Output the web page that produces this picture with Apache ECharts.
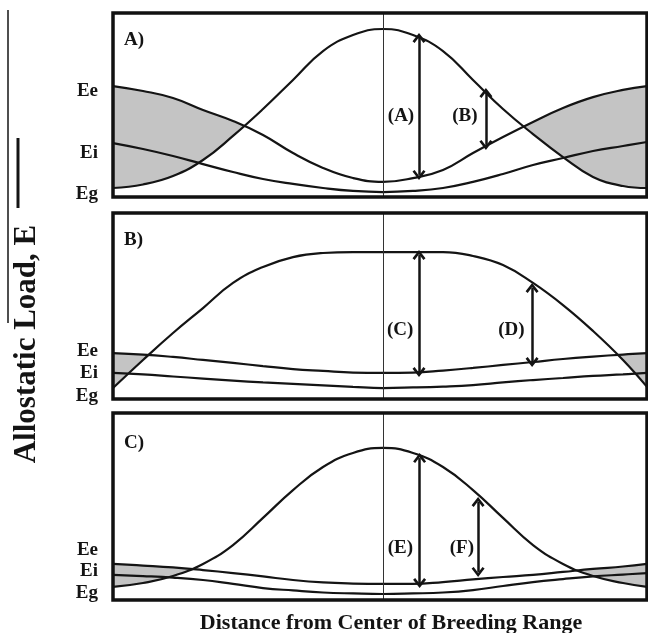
<!DOCTYPE html>
<html>
<head>
<meta charset="utf-8">
<title>Allostatic load across the breeding range</title>
<script src="https://cdn.jsdelivr.net/npm/echarts@6/dist/echarts.min.js"></script>
<style>
  html, body { margin: 0; padding: 0; background: #fff; }
  #chart { width: 648px; height: 633px; }
</style>
</head>
<body>
<div id="chart"></div>
<script>
// distance from the centre of the breeding range (centre = 0)
const distance = [-9, -8, -7, -6, -5, -4, -3, -2, -1, 0, 1, 2, 3, 4, 5, 6, 7, 8, 8.8]

// panel A
const eeA = [60.3, 57.6, 53.8, 47.3, 41.3, 33.7, 23.9, 15.8, 10.3, 8.2, 10.3, 14.7, 23.9, 32.6, 40.8, 48.4, 54.3, 58.2, 60.3]
const eiA = [29.3, 26.1, 22.3, 17.9, 13.6, 9.8, 7.1, 4.9, 3.3, 2.7, 3.3, 4.9, 8.2, 12.5, 17.4, 21.2, 25.0, 27.7, 29.9]
const egA = [4.9, 6.8, 11.4, 20.1, 33.2, 47.8, 63.6, 79.3, 88.0, 91.3, 88.0, 79.3, 63.6, 47.8, 34.2, 21.7, 10.9, 6.0, 4.9]

// panel B
const eeB = [24.7, 23.9, 22.6, 21.0, 19.4, 17.7, 16.1, 15.1, 14.2, 14.0, 14.2, 15.3, 16.7, 18.3, 19.9, 21.5, 22.8, 23.9, 24.7]
const eiB = [14.0, 13.2, 12.1, 11.0, 9.9, 8.9, 8.1, 7.3, 6.5, 5.9, 6.2, 6.7, 7.5, 8.9, 10.2, 11.3, 12.4, 13.2, 14.0]
const egB = [5.9, 21.0, 35.5, 48.9, 62.4, 71.0, 76.3, 78.5, 79.0, 79.0, 79.0, 79.0, 76.9, 72.0, 62.4, 50.5, 36.6, 21.0, 6.5]

// panel C
const eeC = [19.3, 18.4, 17.4, 16.0, 14.4, 12.6, 10.7, 9.4, 8.8, 8.6, 8.6, 9.6, 11.0, 12.3, 13.4, 15.0, 16.6, 17.9, 19.3]
const eiC = [13.4, 12.8, 12.0, 10.7, 8.6, 6.4, 5.1, 4.0, 3.5, 3.2, 3.5, 4.0, 5.3, 7.5, 9.6, 11.2, 12.6, 13.6, 14.4]
const egC = [7.0, 9.1, 12.8, 19.3, 29.4, 43.9, 58.8, 71.1, 78.6, 81.3, 78.6, 71.1, 58.8, 43.9, 29.4, 19.3, 12.8, 9.1, 7.0]

// y tick labels and where they sit in each panel
const levelNames = ['Eg', 'Ei', 'Ee']
const levelsA = [1.6, 23.9, 57.6]
const levelsB = [1.6, 13.7, 25.5]
const levelsC = [3.5, 15.2, 26.7]

// double arrows: [distance, top load, bottom load]
const arrowsA = [[1.2, 86.4, 12.0], [3.43, 56.5, 28.3]]
const arrowsB = [[1.2, 77.4, 14.5], [4.97, 59.7, 19.9]]
const arrowsC = [[1.22, 75.9, 9.1], [3.17, 52.4, 15.0]]

// arrow names: [distance, load, text]
const notesA = [[0.6, 44.0, '(A)'], [2.73, 44.0, '(B)']]
const notesB = [[0.57, 37.1, '(C)'], [4.28, 37.1, '(D)']]
const notesC = [[0.58, 27.8, '(E)'], [2.63, 27.8, '(F)']]

const panelTags = ['A)', 'B)', 'C)']
const yTitle = 'Allostatic Load, E'
const xTitle = 'Distance from Center of Breeding Range'

const SERIF = '"Liberation Serif", "Times New Roman", serif'
const INK = '#141414'
const CHEVRON = 'path://M5,0 L10,7 L8.4,8.4 L5,3.6 L1.6,8.4 L0,7 Z'

const grids = [
  { left: 113, top: 13, width: 534, height: 184 },
  { left: 113, top: 213, width: 534, height: 186 },
  { left: 113, top: 413, width: 534, height: 187 }
]
const panels = [
  { ee: eeA, ei: eiA, eg: egA, levels: levelsA, arrows: arrowsA, notes: notesA },
  { ee: eeB, ei: eiB, eg: egB, levels: levelsB, arrows: arrowsB, notes: notesB },
  { ee: eeC, ei: eiC, eg: egC, levels: levelsC, arrows: arrowsC, notes: notesC }
]

const pairs = vals => distance.map((d, i) => [d, vals[i]])

const xAxis = []
const yAxis = []
const series = []

panels.forEach((p, i) => {
  xAxis.push({ gridIndex: i, type: 'value', min: -9, max: 8.8, show: false })
  yAxis.push({
    gridIndex: i,
    type: 'value',
    min: 0,
    max: 100,
    axisLine: { show: false },
    axisTick: { show: false },
    splitLine: { show: false },
    axisLabel: {
      customValues: p.levels,
      formatter: v => levelNames[p.levels.indexOf(v)] || '',
      margin: 15,
      color: INK,
      fontFamily: SERIF,
      fontWeight: 'bold',
      fontSize: 19
    }
  })

  const base = {
    type: 'line',
    xAxisIndex: i,
    yAxisIndex: i,
    smooth: 0.45,
    symbol: 'none',
    silent: true,
    animation: false
  }
  // grey band: area under Ee, with the part under Eg painted white again
  series.push(Object.assign({}, base, {
    data: pairs(p.ee),
    lineStyle: { width: 0 },
    areaStyle: { color: '#c4c4c4', opacity: 1, origin: 'start' },
    z: 1
  }))
  series.push(Object.assign({}, base, {
    data: pairs(p.eg),
    lineStyle: { width: 0 },
    areaStyle: { color: '#ffffff', opacity: 1, origin: 'start' },
    z: 2
  }))
  series.push(Object.assign({}, base, {
    name: 'Ee',
    data: pairs(p.ee),
    lineStyle: { color: INK, width: 2.2 },
    z: 3
  }))
  series.push(Object.assign({}, base, {
    name: 'Ei',
    data: pairs(p.ei),
    lineStyle: { color: INK, width: 2.2 },
    z: 3,
    markLine: {
      silent: true,
      animation: false,
      symbol: [CHEVRON, CHEVRON],
      symbolSize: [13, 10],
      label: { show: false },
      lineStyle: { color: INK, width: 2.5, type: 'solid' },
      data: p.arrows.map(a => [{ coord: [a[0], a[1]] }, { coord: [a[0], a[2]] }])
    }
  }))
  series.push(Object.assign({}, base, {
    name: 'Eg',
    data: pairs(p.eg),
    lineStyle: { color: INK, width: 2.2 },
    z: 3,
    markLine: {
      silent: true,
      animation: false,
      symbol: 'none',
      label: { show: false },
      lineStyle: { color: '#333', width: 1, type: 'solid' },
      data: [{ xAxis: 0 }]
    }
  }))
  series.push({
    type: 'scatter',
    xAxisIndex: i,
    yAxisIndex: i,
    data: p.notes,
    symbolSize: 0.1,
    itemStyle: { color: INK, opacity: 1 },
    silent: true,
    animation: false,
    z: 4,
    label: {
      show: true,
      position: 'inside',
      formatter: q => q.data[2],
      color: INK,
      opacity: 1,
      fontFamily: SERIF,
      fontWeight: 'bold',
      fontSize: 19
    }
  })
})

const tagTops = [40, 240.5, 443.5]
const graphic = panelTags.map((t, i) => ({
  type: 'text',
  x: 124,
  y: tagTops[i],
  style: {
    text: t,
    fill: INK,
    font: 'bold 19px ' + SERIF,
    textAlign: 'left',
    textVerticalAlign: 'middle'
  }
}))
graphic.push({
  type: 'text',
  x: 27,
  y: 344,
  rotation: Math.PI / 2,
  style: {
    text: yTitle,
    fill: INK,
    font: 'bold 31px ' + SERIF,
    textAlign: 'center',
    textVerticalAlign: 'middle'
  }
})
graphic.push({
  type: 'text',
  x: 391,
  y: 623,
  style: {
    text: xTitle,
    fill: INK,
    font: 'bold 22px ' + SERIF,
    textAlign: 'center',
    textVerticalAlign: 'middle'
  }
})
// stray rules left of the axis title in the original figure
graphic.push({
  type: 'line',
  shape: { x1: 8, y1: 10, x2: 8, y2: 323 },
  style: { stroke: INK, lineWidth: 1.5 }
})
graphic.push({
  type: 'line',
  shape: { x1: 18, y1: 138, x2: 18, y2: 208 },
  style: { stroke: INK, lineWidth: 3 }
})

const chart = echarts.init(document.getElementById('chart'))
chart.setOption({
  animation: false,
  backgroundColor: '#fff',
  grid: grids.map(g => Object.assign({
    show: true,
    z: 10,
    backgroundColor: 'transparent',
    borderColor: '#111',
    borderWidth: 3.5
  }, g)),
  xAxis,
  yAxis,
  series,
  graphic
})
</script>
</body>
</html>
